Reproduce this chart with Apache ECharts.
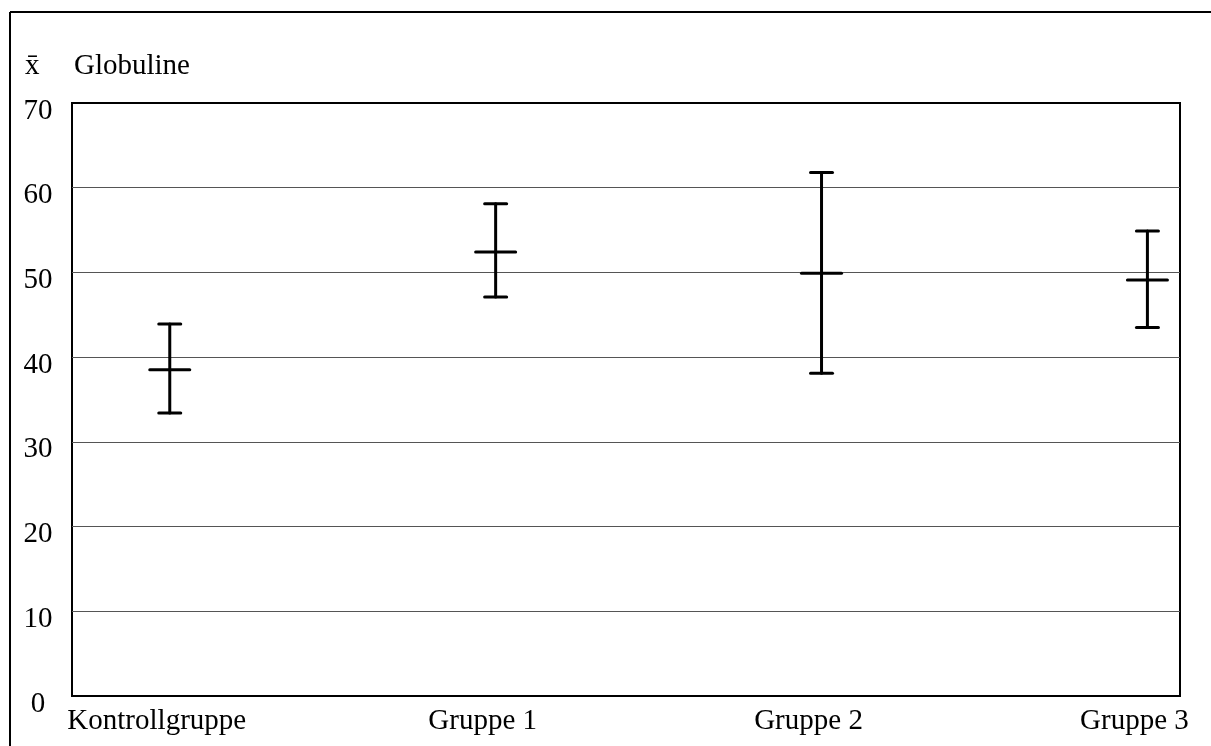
<!DOCTYPE html>
<html>
<head>
<meta charset="utf-8">
<script src="https://cdn.jsdelivr.net/npm/echarts@6/dist/echarts.min.js"></script>
<style>
html,body{margin:0;padding:0;background:#fff;}
#chart{width:1211px;height:746px;}
</style>
</head>
<body>
<div id="chart"></div>
<script>
// Data
var categories = ['Kontrollgruppe', 'Gruppe 1', 'Gruppe 2', 'Gruppe 3'];
var means = [38.5, 52.4, 49.9, 49.1];
var lows  = [33.4, 47.1, 38.1, 43.5];
var highs = [43.9, 58.1, 61.8, 54.9];
var yTicks = [0, 10, 20, 30, 40, 50, 60, 70];
var yTitle = 'Globuline';
var ySymbol = 'x\u0304';

var FONT = '"Liberation Serif", "Times New Roman", serif';

var barData = categories.map(function (c, i) { return [i, lows[i], means[i], highs[i]]; });
var labelData = categories.map(function (c, i) { return [i, 0, c]; });

var chart = echarts.init(document.getElementById('chart'), null, {renderer: 'canvas'});

var option = {
  backgroundColor: '#fff',
  animation: false,
  grid: {
    left: 72, right: 31, top: 103, bottom: 50,
    show: true, borderColor: '#000', borderWidth: 2, backgroundColor: 'transparent'
  },
  xAxis: {
    type: 'value', min: -0.3, max: 3.1,
    axisLine: {show: false}, axisTick: {show: false},
    axisLabel: {show: false}, splitLine: {show: false}
  },
  yAxis: {
    type: 'value', min: yTicks[0], max: yTicks[yTicks.length - 1], interval: 10,
    axisLine: {show: false}, axisTick: {show: false},
    axisLabel: {
      color: '#000', fontFamily: FONT, fontSize: 29,
      align: 'center', verticalAlign: 'top', lineHeight: 16, margin: 34,
      formatter: function (v) { return yTicks.indexOf(v) >= 0 ? String(v) : ''; }
    },
    splitLine: {show: true, showMinLine: false, showMaxLine: false, lineStyle: {color: '#555', width: 1}}
  },
  graphic: [
    {type: 'line', shape: {x1: 10, y1: 12, x2: 10, y2: 746}, style: {stroke: '#000', lineWidth: 2}},
    {type: 'line', shape: {x1: 10, y1: 12, x2: 1211, y2: 12}, style: {stroke: '#000', lineWidth: 2}},
    {type: 'text', left: 25, top: 52, style: {text: ySymbol, font: '29px ' + FONT, fill: '#000'}},
    {type: 'text', left: 74, top: 52, style: {text: yTitle, font: '29px ' + FONT, fill: '#000'}}
  ],
  series: [
    {
      type: 'custom',
      data: barData,
      renderItem: function (params, api) {
        var x = api.value(0);
        var lo = api.coord([x, api.value(1)]);
        var mid = api.coord([x, api.value(2)]);
        var hi = api.coord([x, api.value(3)]);
        var st = {stroke: '#000', lineWidth: 3, lineCap: 'round'};
        return {
          type: 'group',
          children: [
            {type: 'line', shape: {x1: lo[0], y1: lo[1], x2: hi[0], y2: hi[1]}, style: st},
            {type: 'line', shape: {x1: hi[0] - 11, y1: hi[1], x2: hi[0] + 11, y2: hi[1]}, style: st},
            {type: 'line', shape: {x1: lo[0] - 11, y1: lo[1], x2: lo[0] + 11, y2: lo[1]}, style: st},
            {type: 'line', shape: {x1: mid[0] - 20, y1: mid[1], x2: mid[0] + 20, y2: mid[1]}, style: st}
          ]
        };
      },
      z: 5
    },
    {
      type: 'custom',
      data: labelData,
      renderItem: function (params, api) {
        var p = api.coord([api.value(0), api.value(1)]);
        return {
          type: 'text',
          x: p[0] - 13, y: p[1] + 25,
          style: {
            text: categories[params.dataIndex],
            font: '29px ' + FONT, fill: '#000',
            align: 'center', verticalAlign: 'middle'
          }
        };
      },
      clip: false,
      z: 5
    }
  ]
};
chart.setOption(option);
</script>
</body>
</html>
